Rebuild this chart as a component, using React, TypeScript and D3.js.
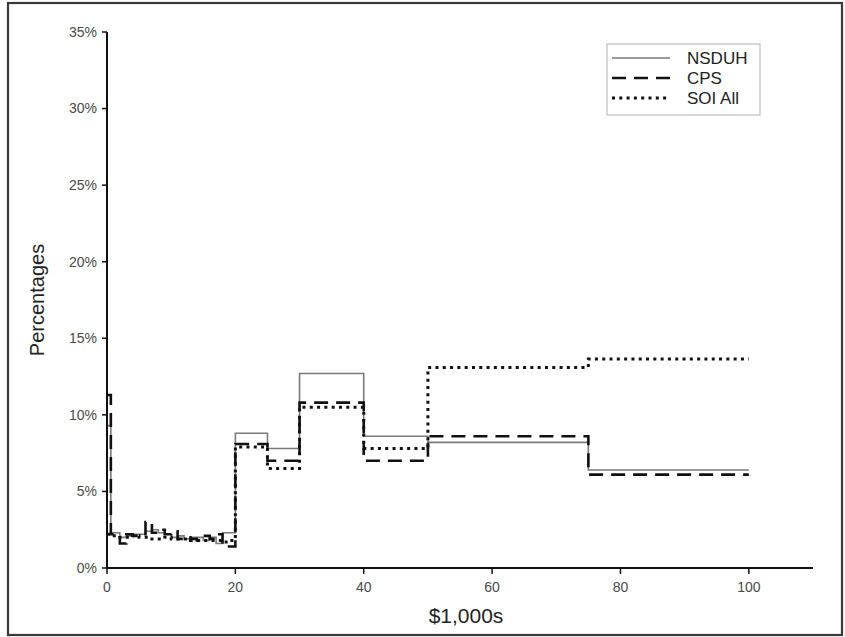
import React from "react";
import * as d3 from "d3";

// Income bin left edges ($1,000s); the last bin closes at binEnd
const binEdges = [0, 0.6, 2, 3, 4, 5, 6, 7, 8, 9, 10, 11, 12, 13, 14, 15, 16, 17, 18, 19, 20, 25, 30, 40, 50, 75];
const binEnd = 100;

// Percent of persons in each income bin
const nsduh = [9.3, 2.3, 2.0, 2.1, 2.2, 2.2, 2.4, 2.5, 2.3, 2.2, 2.0, 2.1, 1.9, 2.0, 2.0, 1.8, 2.0, 1.6, 2.3, 2.3, 8.8, 7.8, 12.7, 8.6, 8.2, 6.4];
const cps = [11.3, 2.2, 1.6, 2.2, 2.1, 2.2, 3.0, 2.3, 2.5, 2.2, 2.4, 1.9, 2.0, 1.9, 1.8, 2.1, 1.9, 2.2, 1.4, 1.4, 8.1, 7.0, 10.8, 7.0, 8.6, 6.1];
const soiAll = [2.2, 2.1, 2.0, 2.0, 2.1, 2.0, 2.0, 1.9, 1.9, 2.0, 1.9, 1.9, 1.9, 1.8, 1.8, 1.8, 1.8, 1.8, 1.7, 1.8, 7.9, 6.5, 10.5, 7.8, 13.1, 13.65];

const xTicks = [0, 20, 40, 60, 80, 100];
const yTicks = [0, 5, 10, 15, 20, 25, 30, 35];

const seriesNames = ["NSDUH", "CPS", "SOI All"];

const W = 845;
const H = 637;
const font = "Arial, 'Liberation Sans', Helvetica, sans-serif";

const styles = [
  { stroke: "#7a7a7a", width: 1.6, dash: undefined as string | undefined },
  { stroke: "#111", width: 2.6, dash: "14 8" },
  { stroke: "#111", width: 3, dash: "3 4.3" },
];

export default function App() {
  const x = d3.scaleLinear().domain([0, 110]).range([107, 813]);
  const y = d3.scaleLinear().domain([0, 35]).range([568, 32]);

  const line = d3
    .line<[number, number]>()
    .x((d) => x(d[0]))
    .y((d) => y(d[1]))
    .curve(d3.curveStepAfter);

  const toPoints = (vals: number[]): [number, number][] => {
    const pts: [number, number][] = binEdges.map((e, i) => [e, vals[i]]);
    pts.push([binEnd, vals[vals.length - 1]]);
    return pts;
  };

  const data = [nsduh, cps, soiAll];

  return (
    <svg
      width={W}
      height={H}
      style={{ position: "absolute", left: 0, top: 0, background: "#fff" }}
      fontFamily={font}
    >
      <rect x={8} y={3} width={834} height={632} fill="#fff" stroke="#3a3a3a" strokeWidth={2.2} />

      {/* series */}
      {data.map((vals, i) => (
        <path
          key={seriesNames[i]}
          d={line(toPoints(vals)) || ""}
          fill="none"
          stroke={styles[i].stroke}
          strokeWidth={styles[i].width}
          strokeDasharray={styles[i].dash}
          strokeLinejoin="miter"
        />
      ))}

      {/* y axis */}
      <line x1={x(0)} x2={x(0)} y1={y(35)} y2={y(0)} stroke="#111" strokeWidth={2} />
      {yTicks.map((t) => (
        <g key={t}>
          <line x1={x(0) - 5} x2={x(0)} y1={y(t)} y2={y(t)} stroke="#111" strokeWidth={1.5} />
          <text x={x(0) - 10} y={y(t)} dy="0.35em" textAnchor="end" fontSize={14} fill="#4a4a4a">
            {t}%
          </text>
        </g>
      ))}

      {/* x axis */}
      <line x1={x(0)} x2={x(110)} y1={y(0)} y2={y(0)} stroke="#111" strokeWidth={2} />
      {xTicks.map((t) => (
        <g key={t}>
          <line x1={x(t)} x2={x(t)} y1={y(0)} y2={y(0) + 6} stroke="#111" strokeWidth={1.5} />
          <text x={x(t)} y={y(0) + 24} textAnchor="middle" fontSize={14} fill="#4a4a4a">
            {t}
          </text>
        </g>
      ))}

      {/* axis titles */}
      <text x={466} y={623} textAnchor="middle" fontSize={21} fill="#222">
        $1,000s
      </text>
      <text
        transform="translate(44,300) rotate(-90)"
        textAnchor="middle"
        fontSize={20}
        fill="#222"
      >
        Percentages
      </text>

      {/* legend */}
      <rect x={607} y={44} width={153} height={71} fill="#fff" stroke="#b0b0b0" strokeWidth={1} />
      {seriesNames.map((name, i) => (
        <g key={name}>
          <line
            x1={612}
            x2={670}
            y1={58 + i * 20}
            y2={58 + i * 20}
            stroke={styles[i].stroke}
            strokeWidth={styles[i].width}
            strokeDasharray={styles[i].dash}
          />
          <text x={687} y={58 + i * 20} dy="0.35em" fontSize={17} fill="#222">
            {name}
          </text>
        </g>
      ))}
    </svg>
  );
}
